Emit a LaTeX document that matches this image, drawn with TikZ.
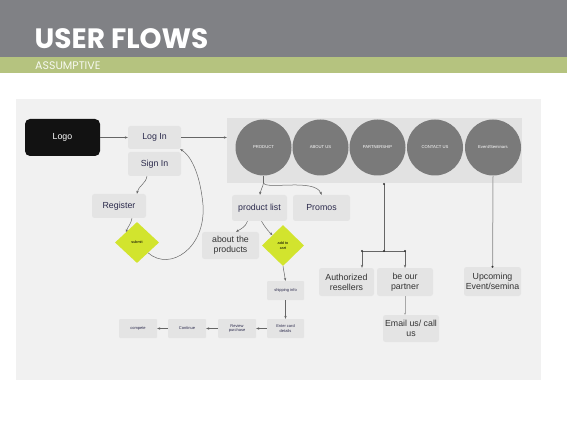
\documentclass[tikz,border=0pt]{standalone}
\usepackage{fontspec}
\setmainfont{Liberation Sans}
\newfontfamily\titlefont{Poppins}
\usetikzlibrary{shapes.geometric,arrows.meta}
\definecolor{hdrgrey}{HTML}{808185}
\definecolor{hdrgreen}{HTML}{B5C37F}
\definecolor{panel}{HTML}{F1F1F1}
\definecolor{boxgrey}{HTML}{E4E4E4}
\definecolor{bargrey}{HTML}{E2E2E2}
\definecolor{circgrey}{HTML}{7A7A7A}
\definecolor{navy}{HTML}{2B2A4C}
\definecolor{darktxt}{HTML}{333333}
\definecolor{limeg}{HTML}{D2E42E}
\definecolor{linegrey}{HTML}{666666}
\definecolor{lightline}{HTML}{A8A8A8}
\tikzset{
 box/.style={fill=boxgrey, rounded corners=2.5pt, inner sep=0pt, align=center, text=navy, font=\fontsize{8.8}{9.8}\selectfont},
 gbox/.style={box, text=darktxt},
 smallbox/.style={box, rounded corners=1pt, font=\fontsize{4}{4.6}\selectfont},
 circ/.style={circle, fill=circgrey, minimum size=56pt, inner sep=0pt, text=white, font=\fontsize{4.2}{4.6}\selectfont},
 dia/.style={diamond, fill=limeg, inner sep=0pt, minimum width=44pt, minimum height=41pt, font=\fontsize{3.8}{4.4}\selectfont, align=center, text=black},
 arr/.style={draw=linegrey, line width=0.5pt, -{Stealth[length=3pt,width=2.4pt]}},
 ln/.style={draw=linegrey, line width=0.5pt},
 jdot/.style={circle, fill=black!80, inner sep=0pt, minimum size=2.2pt}
}
\begin{document}
\begin{tikzpicture}[x=1pt,y=-1pt]
\useasboundingbox (0,0) rectangle (567,438);
\fill[white] (0,0) rectangle (567,438);
\fill[hdrgrey] (0,0) rectangle (567,57.3);
\fill[hdrgreen] (0,57.3) rectangle (567,73.3);
\node[anchor=base west, inner sep=0pt, text=white, font=\titlefont\bfseries\fontsize{28}{28}\selectfont] (title) at (34.5,48.3) {USER FLOWS};
\node[anchor=base west, inner sep=0pt, text=white!88!hdrgreen, font=\titlefont\fontsize{11}{11}\selectfont] (sub) at (35,69.3) {ASSUMPTIVE};
\fill[panel] (16,99) rectangle (541,380);

% nodes
\node[fill=black!93, rounded corners=5pt, minimum width=75pt, minimum height=37pt, inner sep=0pt, text=white, font=\fontsize{8.8}{9.8}\selectfont] (logo) at (62.5,137.5) {Logo};
\node[box, minimum width=53pt, minimum height=23pt] (login) at (154.5,137.5) {Log In};
\node[box, minimum width=53pt, minimum height=24pt] (signin) at (154.5,164) {Sign In};
\node[box, minimum width=54pt, minimum height=24pt] (register) at (119,206) {Register};
\node[dia] (submit) at (137,242.5) {submit};

\node[fill=bargrey, minimum width=295pt, minimum height=65pt, inner sep=0pt] (bar) at (374.5,150.5) {};
\node[circ] (c1) at (263.5,147.5) {PRODUCT};
\node[circ] (c2) at (320.5,147.5) {ABOUT US};
\node[circ] (c3) at (377.5,147.5) {PARTNERSHIP};
\node[circ] (c4) at (435,147.5) {CONTACT US};
\node[circ] (c5) at (493,147.5) {Event/Seminars};

\node[box, minimum width=55pt, minimum height=26pt] (plist) at (259.5,208) {product list};
\node[box, minimum width=57pt, minimum height=26pt] (promos) at (321.5,208) {Promos};
\node[gbox, minimum width=57pt, minimum height=27pt] (about) at (230.5,245.5) {about the\\products};
\node[dia, minimum width=42pt] (cart) at (283,245.5) {add to\\cart};

\node[smallbox, minimum width=37pt, minimum height=19pt] (ship) at (285.5,290.5) {shipping info};
\node[smallbox, minimum width=37pt, minimum height=19pt] (enter) at (285.5,328.5) {Enter card\\details};
\node[smallbox, minimum width=38pt, minimum height=19pt] (review) at (237,328.5) {Review\\purchase};
\node[smallbox, minimum width=38pt, minimum height=19pt] (cont) at (187,328.5) {Continue};
\node[smallbox, minimum width=38pt, minimum height=19pt] (compete) at (138,328.5) {compete};

\node[gbox, minimum width=55pt, minimum height=28pt] (auth) at (346.5,282) {Authorized\\resellers};
\node[gbox, minimum width=56pt, minimum height=28pt] (partner) at (405,282) {be our\\partner};
\node[gbox, minimum width=56pt, minimum height=27pt] (email) at (411,328.5) {Email us/ call\\us};
\node[gbox, minimum width=57pt, minimum height=29pt] (upcoming) at (492.5,281.5) {Upcoming\\Event/semina};

% connectors
\draw[arr] (logo.east) -- (login.west);
\draw[arr] (login.east) -- (login.east -| bar.west);
\draw[arr] ([xshift=-7.5pt]signin.south) to[out=-100,in=80] ([xshift=18pt]register.north);
\draw[arr] ([xshift=13pt]register.south) to[out=-100,in=70] (submit.north west);
\draw[arr] (submit.south east) .. controls (170,272) and (206,248) .. (203,205) .. controls (200,172) and (190,155) .. ([xshift=-1pt]login.south east);

\coordinate (pj) at (263.5,183);
\draw[ln] (c1.south) -- (pj);
\draw[arr] (pj) to[out=-100,in=85] ([xshift=0.5pt]plist.north);
\draw[arr] (pj) .. controls (266,190) and (315,178) .. (promos.north);
\draw[arr] ([xshift=-12pt]plist.south) to[out=-110,in=30] ([xshift=5.5pt]about.north);
\draw[arr] ([xshift=2pt]plist.south) to[out=-60,in=135] (cart.north west);
\draw[arr] (cart.south) -- (ship.north);
\draw[arr] (ship.south) -- (enter.north);
\draw[arr] (enter.west) -- (review.east);
\draw[arr] (review.west) -- (cont.east);
\draw[arr] (cont.west) -- (compete.east);

\coordinate (ptop) at (384,184);
\coordinate (pmid) at (384,251);
\coordinate (pl) at (362,251);
\coordinate (pr) at (405,251);
\draw[ln] (ptop) -- (pmid);
\draw[ln] (pl) -- (pr);
\draw[arr] (pl) -- (pl |- auth.north);
\draw[arr] (pr) -- (partner.north);
\node[jdot] (d1) at (ptop) {};
\node[jdot] (d2) at (pmid) {};
\node[jdot] (d3) at (pl) {};
\node[jdot] (d4) at (pr) {};
\draw[draw=lightline, line width=0.5pt, -{Stealth[length=2pt,width=2pt]}] (partner.south) -- (partner.south |- email.north);
\draw[draw=lightline, line width=1pt] (c5.south) -- (upcoming.north);
\node[jdot] (d5) at (upcoming.north) {};
\end{tikzpicture}
\end{document}
